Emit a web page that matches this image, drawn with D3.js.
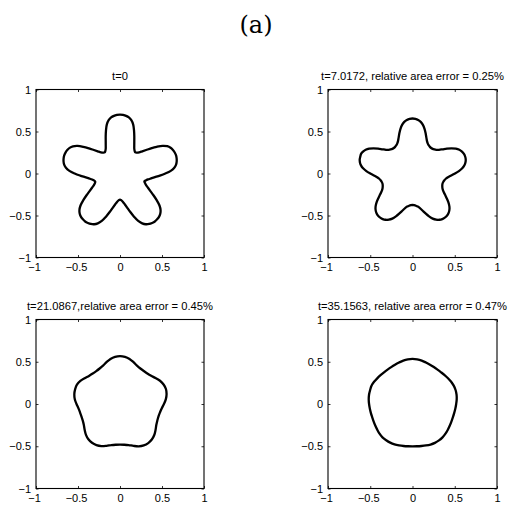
<!DOCTYPE html>
<html>
<head>
<meta charset="utf-8">
<script src="https://cdn.jsdelivr.net/npm/d3@7"></script>
<style>
  html, body { margin: 0; padding: 0; background: #fff; }
  svg { display: block; }
  .tick text { font-family: "Liberation Sans", Arial, Helvetica, sans-serif; font-size: 11px; fill: #000; }
</style>
</head>
<body>
<svg id="chart" width="509" height="506"></svg>
<script>
// ---------------- data ----------------
const figureLabel = "(a)";
const panelTitles = [
  "t=0",
  "t=7.0172, relative area error = 0.25%",
  "t=21.0867,relative area error = 0.45%",
  "t=35.1563, relative area error = 0.47%"
];
const tickValues = [-1, -0.5, 0, 0.5, 1];
const tickLabels = ["\u22121", "\u22120.5", "0", "0.5", "1"];
// start angle (degrees) of each radius list; samples go counter-clockwise, equally spaced over 360 deg
const startAngle = 90;
// radius of the interface, t = 0 (every 3 deg)
const radiusT0 = [
  0.702, 0.698, 0.690, 0.676, 0.650, 0.605, 0.540, 0.475, 0.418, 0.374, 0.340, 0.320,
  0.310, 0.320, 0.340, 0.374, 0.418, 0.475, 0.540, 0.603, 0.647, 0.673, 0.687, 0.695,
  0.698, 0.695, 0.687, 0.673, 0.647, 0.603, 0.540, 0.475, 0.418, 0.374, 0.340, 0.320,
  0.310, 0.320, 0.340, 0.374, 0.418, 0.475, 0.540, 0.605, 0.650, 0.678, 0.694, 0.702,
  0.706, 0.702, 0.694, 0.678, 0.650, 0.605, 0.540, 0.475, 0.418, 0.374, 0.340, 0.320,
  0.310, 0.320, 0.340, 0.374, 0.418, 0.475, 0.540, 0.605, 0.650, 0.678, 0.694, 0.702,
  0.706, 0.702, 0.694, 0.678, 0.650, 0.605, 0.540, 0.475, 0.418, 0.374, 0.340, 0.320,
  0.305, 0.318, 0.340, 0.374, 0.418, 0.475, 0.540, 0.605, 0.650, 0.676, 0.690, 0.698,
  0.702, 0.698, 0.690, 0.676, 0.650, 0.605, 0.540, 0.475, 0.418, 0.374, 0.340, 0.320,
  0.310, 0.320, 0.340, 0.374, 0.418, 0.475, 0.540, 0.605, 0.650, 0.676, 0.690, 0.698
];
// t = 7.0172 (every 3 deg)
const radiusT1 = [
  0.655, 0.652, 0.641, 0.622, 0.592, 0.550, 0.503, 0.458, 0.422, 0.399, 0.386, 0.378,
  0.375, 0.378, 0.386, 0.399, 0.422, 0.458, 0.503, 0.550, 0.592, 0.622, 0.641, 0.652,
  0.650, 0.647, 0.636, 0.617, 0.588, 0.547, 0.500, 0.456, 0.421, 0.399, 0.386, 0.378,
  0.375, 0.378, 0.386, 0.399, 0.421, 0.456, 0.500, 0.547, 0.588, 0.617, 0.636, 0.647,
  0.650, 0.647, 0.636, 0.617, 0.588, 0.547, 0.500, 0.456, 0.421, 0.399, 0.386, 0.378,
  0.375, 0.378, 0.386, 0.399, 0.421, 0.456, 0.500, 0.547, 0.588, 0.617, 0.636, 0.647,
  0.650, 0.647, 0.636, 0.617, 0.588, 0.547, 0.500, 0.456, 0.421, 0.399, 0.386, 0.378,
  0.375, 0.378, 0.386, 0.399, 0.422, 0.458, 0.503, 0.550, 0.592, 0.622, 0.641, 0.652,
  0.655, 0.652, 0.641, 0.622, 0.592, 0.550, 0.503, 0.458, 0.422, 0.399, 0.386, 0.378,
  0.375, 0.378, 0.386, 0.399, 0.422, 0.458, 0.503, 0.550, 0.592, 0.622, 0.641, 0.652
];
// t = 21.0867 (every 6 deg)
const radiusT2 = [
  0.567, 0.561, 0.545, 0.520, 0.497, 0.485, 0.481, 0.485, 0.497, 0.520, 0.545, 0.561,
  0.562, 0.556, 0.541, 0.518, 0.497, 0.486, 0.482, 0.485, 0.497, 0.520, 0.545, 0.562,
  0.567, 0.561, 0.545, 0.520, 0.497, 0.485, 0.481, 0.485, 0.497, 0.521, 0.548, 0.566,
  0.572, 0.566, 0.549, 0.523, 0.499, 0.486, 0.481, 0.486, 0.499, 0.523, 0.549, 0.567,
  0.575, 0.568, 0.550, 0.523, 0.499, 0.486, 0.482, 0.485, 0.497, 0.520, 0.545, 0.561
];
// t = 35.1563 (every 6 deg)
const radiusT3 = [
  0.533, 0.531, 0.525, 0.516, 0.509, 0.504, 0.502, 0.504, 0.509, 0.516, 0.525, 0.531,
  0.528, 0.526, 0.521, 0.514, 0.508, 0.504, 0.502, 0.504, 0.509, 0.516, 0.525, 0.531,
  0.530, 0.528, 0.523, 0.515, 0.508, 0.503, 0.501, 0.503, 0.508, 0.516, 0.525, 0.531,
  0.533, 0.531, 0.525, 0.517, 0.510, 0.505, 0.503, 0.505, 0.510, 0.517, 0.526, 0.533,
  0.536, 0.534, 0.528, 0.519, 0.511, 0.505, 0.503, 0.505, 0.509, 0.516, 0.525, 0.531
];
const panelRadii = [radiusT0, radiusT1, radiusT2, radiusT3];

// ---------------- layout ----------------
const panelBoxes = [
  {x: 36,  y: 89.5,  w: 168, h: 168},
  {x: 328, y: 89.5,  w: 169, h: 168},
  {x: 36,  y: 319.5, w: 168, h: 169},
  {x: 328, y: 319.5, w: 169, h: 169}
];

const svg = d3.select("#chart");

svg.append("text")
  .attr("x", 256).attr("y", 33)
  .attr("text-anchor", "middle")
  .style("font-family", "'DejaVu Serif', 'Liberation Serif', serif")
  .style("font-size", "24px")
  .text(figureLabel);

panelBoxes.forEach((b, p) => {
  const g = svg.append("g").attr("transform", `translate(${b.x},${b.y})`);
  const xs = d3.scaleLinear().domain([-1, 1]).range([0, b.w]);
  const ys = d3.scaleLinear().domain([-1, 1]).range([b.h, 0]);
  const fmt = (d) => tickLabels[tickValues.indexOf(d)];

  // bottom axis with labels
  const ax = g.append("g").attr("transform", `translate(0,${b.h})`)
    .call(d3.axisBottom(xs).tickValues(tickValues).tickFormat(fmt)
      .tickSizeInner(-2.5).tickSizeOuter(0).tickPadding(6));
  ax.selectAll(".tick text").attr("dx", d => d < 0 ? -2 : 0);
  // left axis with labels
  g.append("g")
    .call(d3.axisLeft(ys).tickValues(tickValues).tickFormat(fmt)
      .tickSizeInner(-2.5).tickSizeOuter(0).tickPadding(5));
  // top and right ticks
  g.append("g")
    .call(d3.axisTop(xs).tickValues(tickValues).tickFormat("")
      .tickSizeInner(-2.5).tickSizeOuter(0));
  g.append("g").attr("transform", `translate(${b.w},0)`)
    .call(d3.axisRight(ys).tickValues(tickValues).tickFormat("")
      .tickSizeInner(-2.5).tickSizeOuter(0));
  g.selectAll(".domain").remove();
  g.selectAll(".tick line").attr("stroke", "#000").attr("stroke-width", 0.8);

  // box
  g.append("rect").attr("x", 0).attr("y", 0).attr("width", b.w).attr("height", b.h)
    .attr("fill", "none").attr("stroke", "#000").attr("stroke-width", 1.1);

  // curve
  const radii = panelRadii[p];
  const step = 360 / radii.length;
  const pts = radii.map((r, i) => {
    const a = (startAngle + i * step) * Math.PI / 180;
    return [r * Math.cos(a), r * Math.sin(a)];
  });
  const line = d3.line()
    .x(d => xs(d[0])).y(d => ys(d[1]))
    .curve(d3.curveCatmullRomClosed.alpha(0.5));
  g.append("path").datum(pts).attr("d", line)
    .attr("fill", "none").attr("stroke", "#000").attr("stroke-width", 2.3)
    .attr("stroke-linejoin", "round");

  // title
  g.append("text")
    .attr("x", b.w / 2).attr("y", -10)
    .attr("text-anchor", "middle")
    .style("font-family", "'Liberation Sans', Arial, Helvetica, sans-serif")
    .style("font-size", "11.2px")
    .text(panelTitles[p]);
});
</script>
</body>
</html>
